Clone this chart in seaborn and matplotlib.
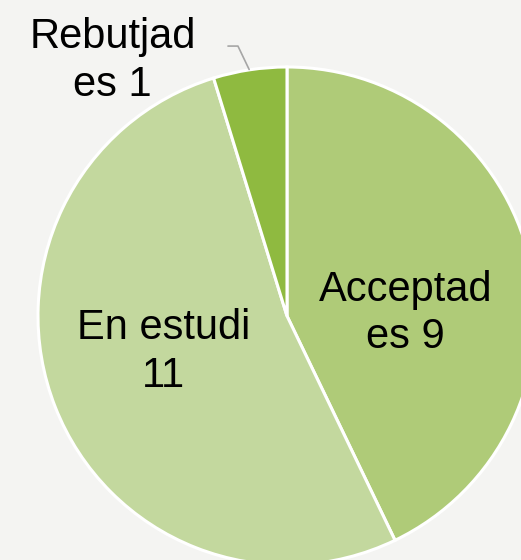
import matplotlib
matplotlib.use("Agg")
import matplotlib.pyplot as plt
import seaborn as sns

# pie data
categories = ["Acceptades", "En estudi", "Rebutjades"]
values = [9, 11, 1]
labels = ["Acceptad\nes 9", "En estudi\n11", "Rebutjad\nes 1"]
colors = ["#afcb78", "#c3d89e", "#8fba40"]

sns.set_style("white")
plt.rcParams["font.family"] = ["Liberation Sans", "DejaVu Sans"]

fig = plt.figure(figsize=(5.21, 5.60), dpi=100, facecolor="#f4f4f2")
ax = fig.add_axes([0, 0, 1, 1])
ax.set_facecolor("#f4f4f2")

wedges, _ = ax.pie(values, colors=colors, startangle=90, counterclock=False,
                   radius=1.0, wedgeprops=dict(edgecolor="white", linewidth=2.2))

# label positions (data units, radius = 1)
txt = dict(ha="center", va="center", fontsize=30, linespacing=1.25, color="black")
ax.text(0.475, 0.01, labels[0], **txt)
ax.text(-0.495, -0.145, labels[1], **txt)
ax.text(-0.70, 1.025, labels[2], **txt)

# leader line for the small slice
ax.plot([-0.237, -0.197, -0.152], [1.084, 1.084, 0.99], color="#a6a6a6", lw=1.2)

ax.set_xlim(-1.1526, 0.9398)
ax.set_ylim(-0.98, 1.269)
ax.set_aspect("equal")
ax.axis("off")

fig.savefig("out.png", dpi=100, facecolor=fig.get_facecolor())
